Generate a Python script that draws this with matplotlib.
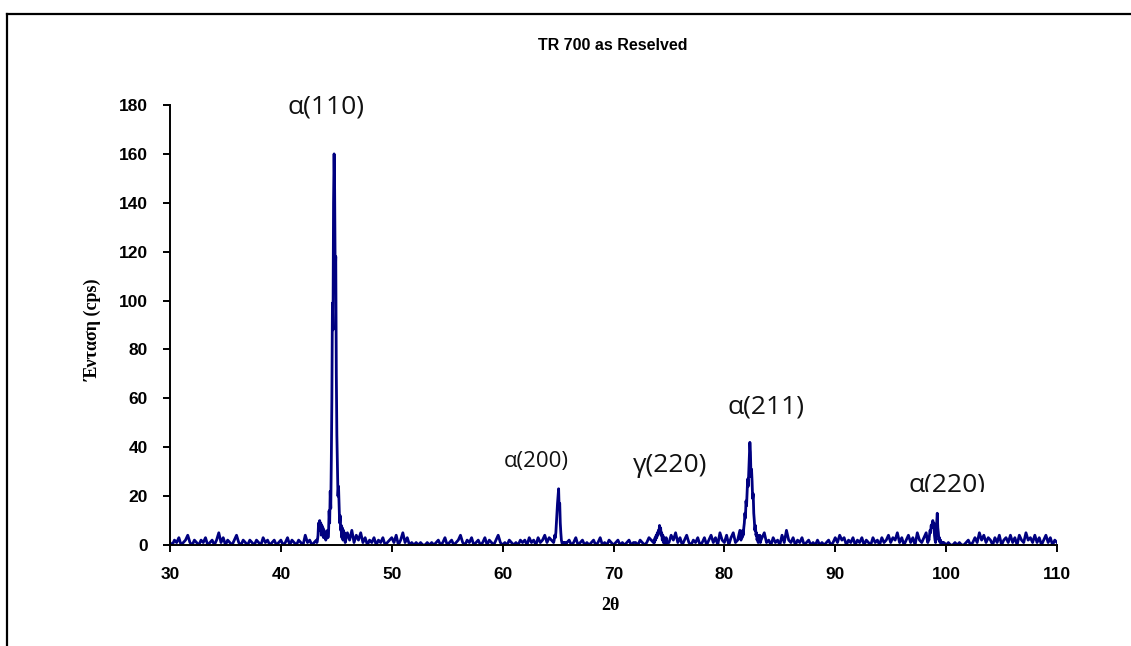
import numpy as np
import matplotlib
matplotlib.use("Agg")
import matplotlib.pyplot as plt
from matplotlib.lines import Line2D
from matplotlib.transforms import Bbox, TransformedBbox

# background counts on a 0.2 deg grid, one list per 10 deg of 2theta
bg_start = 30.0
bg_step = 0.2
bg_30 = [1, 0, 2, 1, 3, 0, 1, 2, 4, 1, 0, 2, 1, 0, 2, 1, 3, 0, 1, 2,
         0, 2, 5, 1, 3, 0, 2, 1, 0, 2, 4, 1, 0, 2, 1, 0, 2, 1, 0, 2,
         1, 0, 3, 1, 2, 0, 1, 2, 0, 1]
bg_40 = [2, 0, 1, 3, 0, 2, 1, 0, 2, 1, 0, 4, 1, 2, 0, 1, 2, 3, 1, 2,
         2, 1, 3, 2, 1, 2, 3, 1, 2, 3, 5, 2, 6, 1, 4, 2, 5, 1, 3, 0,
         2, 1, 3, 0, 2, 1, 3, 0, 1, 2]
bg_50 = [3, 1, 4, 0, 2, 5, 1, 3, 0, 1, 0, 1, 0, 1, 0, 0, 1, 0, 1, 0,
         1, 2, 0, 1, 3, 0, 1, 2, 0, 1, 2, 4, 1, 0, 2, 1, 3, 0, 1, 2,
         0, 1, 3, 0, 2, 1, 0, 2, 4, 1]
bg_60 = [0, 1, 0, 2, 1, 0, 1, 0, 2, 1, 2, 0, 3, 1, 2, 0, 3, 1, 2, 4,
         1, 3, 2, 4, 5, 2, 3, 1, 0, 1, 2, 0, 1, 3, 0, 1, 2, 0, 1, 0,
         1, 2, 0, 1, 3, 0, 1, 0, 2, 1]
bg_70 = [0, 1, 2, 0, 1, 0, 1, 2, 0, 1, 1, 0, 2, 1, 0, 1, 3, 2, 1, 3,
         2, 3, 4, 2, 3, 1, 4, 2, 5, 1, 3, 0, 2, 4, 1, 0, 2, 1, 3, 0,
         1, 3, 0, 2, 4, 1, 3, 0, 5, 2]
bg_80 = [1, 4, 0, 3, 5, 1, 2, 6, 3, 4, 5, 6, 4, 3, 2, 4, 2, 3, 5, 1,
         2, 0, 3, 1, 2, 0, 4, 1, 6, 2, 1, 3, 0, 2, 1, 3, 0, 1, 2, 0,
         1, 0, 2, 0, 1, 0, 1, 2, 0, 1]
bg_90 = [3, 1, 4, 2, 3, 0, 2, 1, 3, 0, 2, 1, 3, 0, 2, 1, 0, 3, 1, 2,
         0, 3, 1, 2, 4, 1, 3, 2, 5, 1, 3, 0, 2, 4, 1, 3, 0, 5, 2, 1,
         3, 5, 2, 1, 4, 0, 2, 1, 1, 0]
bg_100 = [0, 1, 0, 0, 1, 0, 1, 0, 0, 1, 2, 0, 1, 3, 1, 5, 2, 4, 1, 3,
          2, 0, 3, 1, 4, 0, 2, 3, 1, 4, 1, 3, 0, 4, 2, 1, 5, 2, 3, 1,
          4, 1, 3, 0, 2, 4, 1, 3, 0, 2]
bg_110 = [1]

# peak regions sampled every 0.05 deg: (first 2theta, counts)
peak_step = 0.05
a110_start = 43.25
a110_counts = [1, 2, 4, 9, 6, 10, 7, 9, 4, 8,
               5, 7, 3, 6, 4, 5, 2, 3, 4, 6,
               3, 5, 14, 9, 22, 15, 35, 60, 99, 88,
               140, 160, 145, 110, 118, 70, 45, 33, 20, 24,
               16, 9, 12, 6, 8, 3, 7, 2, 6, 3,
               5, 1]
a200_start = 64.60
a200_counts = [1, 2, 4, 3, 5, 9, 13, 17, 20, 23, 15, 17, 9, 5, 2, 1,
               0, 1, 0, 1, 0, 1, 0]
g220_start = 73.60
g220_counts = [1, 2, 1, 3, 2, 4, 3, 5, 4, 6, 5, 8, 6, 7, 4, 5, 2, 4, 1,
               3, 1, 2, 0, 3, 1]
a211_start = 81.50
a211_counts = [2, 5, 3, 6, 4, 7, 9, 13, 11, 18, 16,
               22, 27, 24, 30, 36, 42, 38, 28, 31, 26,
               19, 21, 13, 10, 6, 8, 4, 5, 2, 4,
               1, 3, 2, 4, 1, 2]
a220_start = 98.30
a220_counts = [2, 1, 3, 2, 4, 6, 5, 8, 7, 9, 10, 8, 9, 4, 2, 1,
               5, 9, 13, 7, 5, 2, 3, 1, 2, 1, 1, 0, 1, 0, 1]

# reflection labels: text, 2theta, counts
labels = ["α(110)", "α(200)", "γ(220)", "α(211)", "α(220)"]
label_x = [44.1, 63.0, 75.1, 83.75, 100.1]
label_y = [179.0, 34.3, 32.7, 56.5, 24.4]
label_size = [19, 16, 19, 19, 19]

x_ticks = [30, 40, 50, 60, 70, 80, 90, 100, 110]
y_ticks = [0, 20, 40, 60, 80, 100, 120, 140, 160, 180]

# merge background and peak segments
bg_counts = np.array(bg_30 + bg_40 + bg_50 + bg_60 + bg_70 + bg_80
                     + bg_90 + bg_100 + bg_110, dtype=float)
bg_theta = bg_start + bg_step * np.arange(len(bg_counts))

peaks = [(a110_start, a110_counts), (a200_start, a200_counts),
         (g220_start, g220_counts), (a211_start, a211_counts),
         (a220_start, a220_counts)]
keep = np.ones(len(bg_theta), dtype=bool)
seg_x, seg_y = [], []
for start, counts in peaks:
    px = start + peak_step * np.arange(len(counts))
    keep &= ~((bg_theta >= px[0] - 1e-6) & (bg_theta <= px[-1] + 1e-6))
    seg_x.append(px)
    seg_y.append(np.array(counts, dtype=float))

theta = np.concatenate([bg_theta[keep]] + seg_x)
intensity = np.concatenate([bg_counts[keep]] + seg_y)
order = np.argsort(theta)
theta, intensity = theta[order], intensity[order]

fig = plt.figure(figsize=(11.31, 6.46), dpi=100)
ax = fig.add_axes([170 / 1131, 1 - 545 / 646, 887 / 1131, 440 / 646])

ax.plot(theta, intensity, color="#000080", lw=2.0)

ax.set_xlim(30, 110)
ax.set_ylim(0, 180)
ax.set_xticks(x_ticks)
ax.set_yticks(y_ticks)
for s in ("top", "right"):
    ax.spines[s].set_visible(False)
for s in ("left", "bottom"):
    ax.spines[s].set_linewidth(1.4)
ax.tick_params(axis="both", direction="out", length=5, width=1.4,
               labelsize=12.5)
ax.tick_params(axis="x", pad=11)
ax.tick_params(axis="y", pad=11)
for lab in ax.get_xticklabels() + ax.get_yticklabels():
    lab.set_fontfamily("Liberation Sans")
    lab.set_fontweight("bold")

for txt, lx, ly, fs in zip(labels, label_x, label_y, label_size):
    t = ax.text(lx, ly, txt, ha="center", va="center", fontsize=fs,
                family=["Open Sans", "DejaVu Sans"], color="#111111")
    if txt == "α(220)":
        # bottom of this label is cut off
        t.set_clip_box(TransformedBbox(Bbox([[95, 21.7], [106, 60]]),
                                       ax.transData))
        t.set_clip_on(True)

fig.text(613 / 1131, 1 - 45 / 646, "TR 700 as Reselved", ha="center",
         va="center", fontsize=11.5, fontweight="bold",
         family="Liberation Sans")
fig.text(93 / 1131, 1 - 330 / 646, "Ένταση (cps)", rotation=90,
         ha="center", va="center", fontsize=13, fontweight="bold",
         family="Liberation Serif")
fig.text(610 / 1131, 1 - 605 / 646, "2θ", ha="center", va="center",
         fontsize=13, fontweight="bold", family="Liberation Serif")

# frame around the chart area
fig.add_artist(Line2D([7 / 1131, 1], [1 - 14 / 646] * 2, color="black",
                      lw=1.6, transform=fig.transFigure))
fig.add_artist(Line2D([7 / 1131] * 2, [0, 1 - 14 / 646], color="black",
                      lw=1.6, transform=fig.transFigure))

fig.savefig("out.png", dpi=100)
